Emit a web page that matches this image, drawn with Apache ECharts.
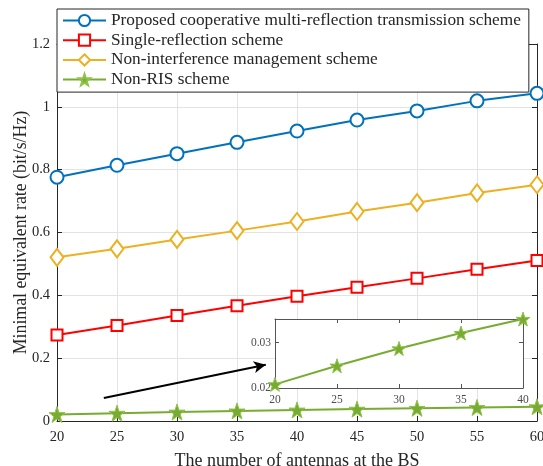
<!DOCTYPE html>
<html><head><meta charset="utf-8">
<script src="https://cdn.jsdelivr.net/npm/echarts@6/dist/echarts.min.js"></script>
<style>html,body{margin:0;padding:0;background:#fff}#c{width:543px;height:466px}</style>
</head><body><div id="c"></div>
<script>
const antennas = [20, 25, 30, 35, 40, 45, 50, 55, 60];
const proposed = [0.776, 0.814, 0.851, 0.887, 0.923, 0.958, 0.987, 1.019, 1.043];
const singleRef = [0.274, 0.304, 0.336, 0.367, 0.397, 0.426, 0.454, 0.483, 0.511];
const nonInterf = [0.521, 0.548, 0.578, 0.606, 0.635, 0.667, 0.695, 0.726, 0.752];
const nonRIS = [0.0208, 0.0249, 0.0287, 0.0321, 0.0352, 0.0378, 0.0405, 0.043, 0.0455];
const insetX = [20, 25, 30, 35, 40];
const insetY = [0.0208, 0.0249, 0.0287, 0.0321, 0.0352];
const seriesNames = ['Proposed cooperative multi-reflection transmission scheme', 'Single-reflection scheme', 'Non-interference management scheme', 'Non-RIS scheme'];
const arrowFrom = [23.9, 0.073];
const arrowTo = [37.4, 0.179];

const FONT = 'Liberation Serif';
const AX = '#262626';
const star = 'path://M50,0 L61.8,35.1 L97.6,34.5 L69.1,56.7 L79.4,90.5 L50,70 L20.6,90.5 L30.9,56.7 L2.4,34.5 L38.2,35.1 Z';
const pair = (xs, ys) => xs.map((x, i) => [x, ys[i]]);

const mainX = {min: 20, max: 60, interval: 5};
const mainY = {min: 0, max: 1.2, interval: 0.2};
const inX = {min: 20, max: 40, interval: 5};
const inY = {min: 0.02, max: 0.0352, interval: 0.01};

function axisBase(range, grid, pos, showLabel, split, fs, col) {
  return Object.assign({
    type: 'value', gridIndex: grid, position: pos,
    axisLine: {show: true, onZero: false, lineStyle: {color: AX, width: 1}},
    axisTick: {show: true, inside: true, length: 5, lineStyle: {color: AX}},
    axisLabel: {show: showLabel, fontFamily: FONT, fontSize: fs, color: col},
    splitLine: {show: split, lineStyle: {color: '#e3e3e3', width: 1}}
  }, range);
}

const chart = echarts.init(document.getElementById('c'));
const xMain = axisBase(mainX, 0, 'bottom', true, true, 14.5, AX);
xMain.axisLabel.margin = 9;
xMain.name = 'The number of antennas at the BS';
xMain.nameLocation = 'middle';
xMain.nameGap = 31;
xMain.nameTextStyle = {fontFamily: FONT, fontSize: 18, color: AX};
const yMain = axisBase(mainY, 0, 'left', true, true, 14.5, AX);
yMain.axisLabel.margin = 7;
yMain.axisLabel.formatter = v => String(+v.toFixed(2));
yMain.name = 'Minimal equivalent rate (bit/s/Hz)';
yMain.nameLocation = 'middle';
yMain.nameGap = 27;
yMain.nameMoveOverlap = false;
yMain.nameTextStyle = {fontFamily: FONT, fontSize: 17.8, color: AX};

const xIn = axisBase(inX, 1, 'bottom', true, false, 11.5, '#4d4d4d');
xIn.axisLabel.margin = 6; xIn.z = 5;
const yIn = axisBase(inY, 1, 'left', true, false, 11.5, '#4d4d4d');
yIn.axisLabel.margin = 4; yIn.z = 5;
yIn.axisLabel.formatter = v => (Math.abs(v - 0.02) < 1e-6 || Math.abs(v - 0.03) < 1e-6) ? v.toFixed(2) : '';
const xInTop = axisBase(inX, 1, 'top', false, false, 11, AX); xInTop.z = 5;
const yInRight = axisBase(inY, 1, 'right', false, false, 11, AX); yInRight.z = 5;
[xIn, yIn, xInTop, yInRight].forEach(a => { a.axisLine.lineStyle.color = '#555'; a.axisTick.lineStyle.color = '#555'; a.axisTick.length = 4; });

chart.setOption({
  animation: false,
  backgroundColor: '#fff',
  grid: [
    {left: 57, right: 6, top: 44, bottom: 45, show: false, containLabel: false, outerBoundsMode: 'none'},
    {left: 275, right: 20, top: 319, bottom: 78, show: true, backgroundColor: '#fff', borderWidth: 0, z: 1, containLabel: false, outerBoundsMode: 'none'}
  ],
  legend: {
    data: seriesNames, orient: 'vertical', left: 57, top: 9,
    backgroundColor: '#fff', borderColor: AX, borderWidth: 1,
    padding: [3, 8, 4, 5], itemWidth: 43, itemHeight: 14, itemGap: 2.7,
    textStyle: {fontFamily: FONT, fontSize: 17.3, lineHeight: 17, color: AX}, z: 10
  },
  xAxis: [xMain, axisBase(mainX, 0, 'top', false, false, 14, AX), xIn, xInTop],
  yAxis: [yMain, axisBase(mainY, 0, 'right', false, false, 14, AX), yIn, yInRight],
  series: [
    {name: seriesNames[0], type: 'line', data: pair(antennas, proposed), symbol: 'emptyCircle', symbolSize: 13,
     lineStyle: {color: '#0072BD', width: 2}, itemStyle: {color: '#0072BD', borderWidth: 2}},
    {name: seriesNames[1], type: 'line', data: pair(antennas, singleRef), symbol: 'emptyRect', symbolSize: 11,
     lineStyle: {color: '#FF0000', width: 2}, itemStyle: {color: '#FF0000', borderWidth: 2}},
    {name: seriesNames[2], type: 'line', data: pair(antennas, nonInterf), symbol: 'emptyDiamond', symbolSize: [13, 17],
     lineStyle: {color: '#EDB120', width: 2}, itemStyle: {color: '#EDB120', borderWidth: 2}},
    {name: seriesNames[3], type: 'line', data: pair(antennas, nonRIS), symbol: star, symbolSize: 16,
     lineStyle: {color: '#77AC30', width: 2}, itemStyle: {color: '#77AC30', borderColor: '#8fc24a', borderWidth: 1},
     markLine: {silent: true, symbol: ['none', 'arrow'], symbolSize: [9, 12], label: {show: false},
       lineStyle: {color: '#000', width: 2, type: 'solid'},
       data: [[{coord: arrowFrom}, {coord: arrowTo}]]}},
    {name: 'inset', type: 'line', xAxisIndex: 2, yAxisIndex: 2, data: pair(insetX, insetY), symbol: star, symbolSize: 14,
     lineStyle: {color: '#77AC30', width: 2}, itemStyle: {color: '#77AC30', borderColor: '#8fc24a', borderWidth: 1}, z: 6}
  ]
});
</script></body></html>
